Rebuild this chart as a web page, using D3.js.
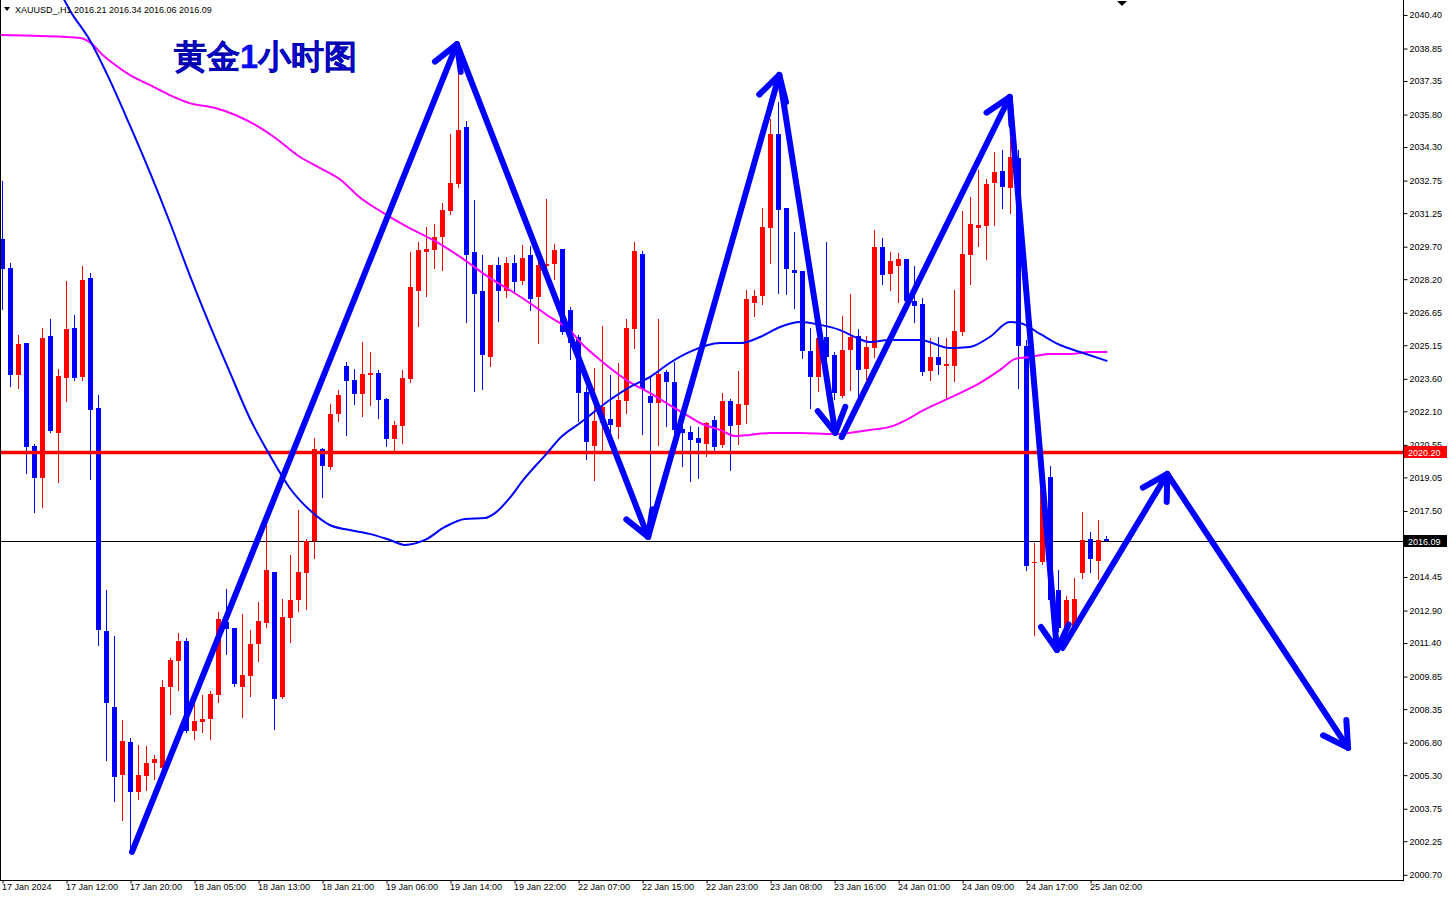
<!DOCTYPE html>
<html><head><meta charset="utf-8">
<script src="https://cdn.jsdelivr.net/npm/d3@7"></script>
<style>
html,body{margin:0;padding:0;background:#fff;}
svg{display:block;}
text{font-family:"Liberation Sans",Arial,sans-serif;}
</style></head><body>
<svg id="c" width="1451" height="902"></svg>
<script>
const symbolLabel = "XAUUSD_,H1";
const headerValues = "2016.21 2016.34 2016.06 2016.09";
const titleText = "黄金1小时图";
const timeLabels = ["17 Jan 2024","17 Jan 12:00","17 Jan 20:00","18 Jan 05:00","18 Jan 13:00","18 Jan 21:00","19 Jan 06:00","19 Jan 14:00","19 Jan 22:00","22 Jan 07:00","22 Jan 15:00","22 Jan 23:00","23 Jan 08:00","23 Jan 16:00","24 Jan 01:00","24 Jan 09:00","24 Jan 17:00","25 Jan 02:00"];
const timeLabelBars = [0,8,16,24,32,40,48,56,64,72,80,88,96,104,112,120,128,136];
const priceTicks = [2040.40,2038.85,2037.35,2035.80,2034.30,2032.75,2031.25,2029.70,2028.20,2026.65,2025.15,2023.60,2022.10,2020.55,2019.05,2017.50,2015.95,2014.45,2012.90,2011.40,2009.85,2008.35,2006.80,2005.30,2003.75,2002.25,2000.70];
const hiddenTick = 2015.95; // covered by the last-price box in the original
const supportLevel = 2020.20;
const lastPrice = 2016.09;

const open = [
2030.06,2028.72,2023.78,2025.25,2020.50,2019.02,2025.58,2021.10,2023.64,2025.95,
2023.68,2028.26,2022.25,2011.96,2008.45,2005.31,2006.83,2004.53,2005.26,2005.86,
2005.63,2009.37,2010.57,2011.50,2007.34,2007.76,2007.90,2009.00,2012.37,2012.10,
2009.37,2009.88,2011.36,2012.33,2014.68,2008.91,2012.56,2013.39,2014.64,2016.11,
2020.36,2019.53,2021.98,2024.19,2023.55,2022.90,2023.78,2023.87,2022.67,2020.82,
2021.42,2023.59,2027.66,2029.46,2029.55,2030.15,2031.35,2032.60,2035.23,2029.46,
2027.66,2024.61,2028.86,2027.66,2028.95,2028.12,2029.32,2027.38,2028.81,2028.90,
2029.59,2026.78,2025.53,2022.99,2020.50,2021.56,2021.75,2021.38,2022.58,2025.90,
2029.36,2022.81,2022.48,2023.92,2023.45,2021.28,2021.15,2020.87,2020.59,2021.70,
2020.55,2022.58,2021.47,2022.39,2027.10,2027.42,2030.56,2034.90,2031.49,2028.62,
2028.58,2024.89,2023.68,2025.53,2024.70,2022.81,2024.93,2025.58,2024.05,2025.02,
2029.69,2028.44,2028.81,2029.13,2027.19,2027.06,2023.96,2024.61,2024.19,2024.19,
2025.76,2029.32,2030.56,2030.66,2032.64,2033.20,2032.41,2033.80,2025.12,2015.10,
2015.14,2019.07,2013.85,2012.10,2012.05,2014.64,2016.21,2015.19,2016.21];
const high = [
2032.73,2028.95,2025.62,2025.25,2020.59,2025.95,2026.36,2024.05,2028.12,2026.55,
2028.81,2028.49,2022.85,2013.85,2011.73,2007.85,2007.02,2006.70,2006.65,2006.23,
2009.70,2010.71,2011.87,2011.64,2008.77,2009.00,2009.19,2012.84,2013.90,2012.10,
2012.74,2012.00,2013.30,2016.85,2014.68,2013.44,2015.47,2017.54,2016.21,2020.87,
2020.41,2022.44,2023.08,2024.38,2024.05,2025.30,2024.84,2024.01,2022.72,2021.65,
2024.01,2029.46,2029.92,2030.61,2030.75,2031.72,2034.90,2037.95,2035.50,2031.86,
2029.32,2028.86,2029.23,2029.23,2029.32,2029.78,2029.73,2029.23,2031.90,2029.82,
2029.59,2026.92,2025.62,2023.22,2024.10,2026.04,2023.78,2024.33,2026.36,2029.92,
2029.50,2023.73,2026.36,2024.01,2024.38,2022.02,2021.42,2021.38,2021.61,2021.88,
2022.95,2022.67,2023.96,2027.70,2027.70,2031.49,2035.60,2036.38,2031.49,2030.38,
2028.58,2025.95,2025.76,2029.92,2024.84,2026.50,2027.52,2025.90,2025.58,2030.47,
2030.10,2029.46,2029.41,2029.13,2028.81,2027.33,2025.49,2025.53,2025.49,2027.70,
2031.35,2032.00,2033.24,2032.83,2034.07,2034.17,2035.09,2034.17,2025.39,2016.02,
2019.58,2019.58,2014.77,2013.57,2014.41,2017.45,2016.53,2017.08,2016.34];
const low = [
2026.78,2023.22,2023.13,2019.21,2017.41,2017.64,2021.10,2018.79,2022.53,2023.50,
2023.50,2018.93,2011.27,2005.96,2004.06,2003.19,2001.71,2004.16,2004.57,2005.08,
2005.31,2008.08,2009.19,2007.25,2006.93,2007.25,2006.93,2008.63,2010.85,2009.37,
2007.94,2008.91,2010.53,2012.10,2007.39,2008.82,2011.40,2012.84,2012.93,2015.28,
2018.10,2019.39,2021.61,2020.96,2022.39,2021.84,2022.35,2021.75,2020.45,2020.27,
2020.59,2023.41,2025.99,2027.38,2028.67,2028.58,2031.16,2032.41,2026.18,2022.99,
2023.08,2024.15,2026.22,2027.33,2027.52,2027.93,2026.73,2025.21,2028.62,2028.16,
2025.62,2024.47,2021.61,2019.85,2018.88,2020.22,2020.78,2020.82,2021.98,2024.98,
2021.01,2017.22,2020.50,2021.38,2020.64,2019.53,2018.84,2018.98,2019.99,2020.27,
2020.41,2019.35,2020.55,2021.52,2026.46,2027.01,2028.90,2027.52,2027.47,2026.82,
2024.52,2022.21,2022.99,2023.08,2022.62,2022.72,2023.04,2022.62,2023.55,2024.56,
2027.93,2027.66,2027.10,2027.01,2026.18,2023.73,2023.50,2023.78,2022.67,2023.45,
2025.58,2027.93,2029.69,2029.09,2030.66,2031.44,2031.21,2023.13,2014.73,2011.73,
2015.00,2013.21,2011.91,2011.54,2011.91,2014.36,2014.64,2014.31,2016.06];
const close = [
2028.67,2023.78,2025.21,2020.45,2019.02,2025.49,2021.19,2023.73,2025.90,2023.64,
2028.16,2022.16,2012.00,2008.63,2005.22,2006.88,2004.53,2005.31,2005.86,2006.05,
2009.37,2010.62,2011.50,2007.34,2007.80,2007.90,2009.05,2012.51,2012.05,2009.51,
2009.93,2011.36,2012.42,2014.77,2008.82,2012.60,2013.39,2014.68,2016.11,2020.36,
2019.58,2021.98,2022.85,2023.50,2022.90,2023.82,2023.87,2022.62,2020.82,2021.47,
2023.64,2027.84,2029.55,2029.59,2030.15,2031.40,2032.64,2035.09,2029.32,2027.52,
2024.70,2028.86,2027.66,2028.95,2028.07,2029.18,2027.29,2028.86,2028.90,2029.55,
2025.76,2025.25,2022.95,2020.68,2021.65,2022.30,2021.47,2022.62,2025.95,2029.50,
2023.13,2022.48,2023.82,2023.45,2021.24,2021.10,2020.78,2020.64,2021.56,2020.45,
2022.58,2021.42,2022.44,2027.29,2027.42,2030.61,2034.90,2031.40,2028.67,2028.49,
2024.89,2023.68,2025.49,2024.61,2022.95,2024.93,2025.53,2024.01,2025.07,2029.69,
2028.39,2029.04,2029.13,2027.19,2026.96,2023.92,2024.61,2024.24,2024.29,2025.81,
2029.36,2030.75,2030.70,2032.60,2033.15,2032.46,2033.84,2025.12,2014.96,2015.14,
2019.07,2013.39,2012.10,2013.39,2013.44,2016.16,2015.28,2016.16,2016.09];

// moving averages: [bar position, price]
const blueMA = [[7.4,2041.32],[8.4,2040.63],[10.9,2039.24],[13.4,2037.40],[15.9,2035.32],[18.4,2033.15],[20.9,2030.84],[23.4,2028.39],[25.9,2026.09],[28.4,2023.92],[30.9,2021.79],[33.4,2020.08],[35.9,2018.56],[38.4,2017.54],[40.9,2016.85],[43.4,2016.62],[45.9,2016.44],[48.4,2016.16],[50.3,2015.93],[52.8,2016.16],[55.3,2016.76],[57.8,2017.13],[60.3,2017.17],[61.6,2017.41],[63.4,2018.10],[65.1,2018.93],[68.1,2020.18],[69.7,2020.87],[72.2,2021.56],[75.9,2022.62],[78.4,2023.22],[80.9,2023.68],[83.4,2024.33],[85.9,2024.84],[89.7,2025.25],[92.2,2025.25],[94.7,2025.53],[97.2,2025.99],[99.7,2026.22],[102.2,2026.09],[104.7,2025.85],[106.8,2025.49],[108.4,2025.30],[110.9,2025.39],[114.7,2025.39],[118.4,2025.02],[120.9,2025.07],[123.4,2025.53],[125.9,2026.22],[127.2,2026.18],[129.7,2025.67],[132.2,2025.16],[134.7,2024.84],[138.1,2024.42]];
const magentaMA = [[-0.3,2039.47],[4.7,2039.43],[9.7,2039.34],[11.2,2039.06],[12.4,2038.60],[14.1,2038.09],[15.9,2037.63],[18.4,2037.17],[20.9,2036.70],[23.4,2036.33],[26.6,2036.10],[29.1,2035.78],[31.6,2035.32],[34.1,2034.72],[37.2,2033.84],[39.7,2033.33],[42.6,2032.69],[44.3,2032.09],[47.6,2031.26],[50.6,2030.61],[53.8,2030.01],[57.2,2029.23],[60.9,2028.26],[63.4,2027.70],[65.9,2027.10],[68.4,2026.46],[70.9,2025.85],[72.2,2025.30],[74.7,2024.47],[78.4,2023.45],[80.9,2022.95],[83.4,2022.39],[85.9,2021.84],[87.2,2021.56],[89.7,2021.24],[91.6,2020.96],[93.4,2021.01],[95.9,2021.10],[99.7,2021.10],[103.8,2021.05],[108.4,2021.24],[110.9,2021.38],[113.4,2021.79],[114.7,2022.07],[118.4,2022.72],[122.2,2023.41],[124.7,2024.01],[126.6,2024.52],[128.4,2024.61],[130.9,2024.75],[133.4,2024.75],[135.9,2024.84],[138.1,2024.84]];

// hand-drawn arrows: [from, to] in [bar position, price], head at "to"
const arrows = [
 [[16.19,2001.76],[56.8,2039.05]],
 [[56.8,2039.05],[80.7,2016.30]],
 [[80.7,2016.30],[97.1,2037.63]],
 [[97.1,2037.63],[104.1,2021.10]],
 [[104.9,2020.91],[125.9,2036.61]],
 [[125.9,2036.61],[131.8,2011.08]],
 [[132.5,2011.17],[145.6,2019.21]],
 [[145.6,2019.21],[168.2,2006.56]]
];

const W = 1451, H = 902, plotR = 1403, plotB = 880;
const svg = d3.select("#c");
const x = d3.scaleLinear().domain([0, 138]).range([2.5, 2.5 + 8*138]);
const y = d3.scaleLinear().domain([2000.46, 2041.09]).range([plotB, 0]);

svg.append("defs").append("clipPath").attr("id","clip")
  .append("rect").attr("x",0).attr("y",0).attr("width",plotR).attr("height",plotB);

const g = svg.append("g").attr("clip-path","url(#clip)");

// last price line (under candles)
g.append("line").attr("x1",0).attr("x2",plotR)
  .attr("y1",Math.round(y(lastPrice))+0.5).attr("y2",Math.round(y(lastPrice))+0.5)
  .attr("stroke","#000").attr("stroke-width",1);

// candles
const idx = d3.range(open.length);
const cg = g.append("g");
idx.forEach(i => {
  const up = close[i] >= open[i];
  const col = up ? "#ff0000" : "#0000ff";
  const cx = x(i);
  const yh = Math.round(y(high[i])), yl = Math.round(y(low[i]));
  cg.append("rect").attr("x",cx-0.5).attr("y",yh).attr("width",1).attr("height",Math.max(1,yl-yh)).attr("fill",col);
  const t = Math.round(y(Math.max(open[i],close[i]))), b = Math.round(y(Math.min(open[i],close[i])));
  cg.append("rect").attr("x",cx-2.5).attr("y",t).attr("width",5).attr("height",Math.max(1,b-t)).attr("fill",col);
});

// support line
g.append("line").attr("x1",0).attr("x2",plotR)
  .attr("y1",y(supportLevel)).attr("y2",y(supportLevel))
  .attr("stroke","#ff0000").attr("stroke-width",3.5);

// moving averages
const line = d3.line().x(d=>x(d[0])).y(d=>y(d[1])).curve(d3.curveMonotoneX);
g.append("path").datum(magentaMA).attr("d",line).attr("fill","none").attr("stroke","#ff00ff").attr("stroke-width",2);
g.append("path").datum(blueMA).attr("d",line).attr("fill","none").attr("stroke","#0000ff").attr("stroke-width",2);

// arrows
const ag = g.append("g").attr("stroke","#0000ff").attr("stroke-width",6)
  .attr("stroke-linecap","round").attr("stroke-linejoin","round").attr("fill","none");
arrows.forEach(([a,b]) => {
  const x1=x(a[0]), y1=y(a[1]), x2=x(b[0]), y2=y(b[1]);
  ag.append("line").attr("x1",x1).attr("y1",y1).attr("x2",x2).attr("y2",y2);
  const ang = Math.atan2(y1-y2, x1-x2), L = 28, s = 0.52;
  const p1 = [x2 + L*Math.cos(ang+s), y2 + L*Math.sin(ang+s)];
  const p2 = [x2 + L*Math.cos(ang-s), y2 + L*Math.sin(ang-s)];
  ag.append("path").attr("d",`M${p1[0]},${p1[1]}L${x2},${y2}L${p2[0]},${p2[1]}`);
});

// frame
svg.append("line").attr("x1",0.5).attr("x2",0.5).attr("y1",0).attr("y2",plotB).attr("stroke","#000");
svg.append("line").attr("x1",0).attr("x2",plotR+0.5).attr("y1",plotB+0.5).attr("y2",plotB+0.5).attr("stroke","#000");

// right price axis
const ya = svg.append("g").attr("transform",`translate(${plotR+0.5},0)`)
  .call(d3.axisRight(y).tickValues(priceTicks).tickSize(4).tickSizeOuter(0)
    .tickFormat(d => d === hiddenTick ? "" : d.toFixed(2)));
ya.select(".domain").attr("d",`M0,0V${plotB+1}`).attr("stroke","#000");
ya.selectAll("text").attr("font-size",9).attr("fill","#000").attr("font-family","Liberation Sans, Arial, sans-serif").attr("x",6);

// price boxes
function box(v, bg){
  const yy = y(v);
  const bx = svg.append("g");
  bx.append("rect").attr("x",plotR+1).attr("y",Math.round(yy)-6).attr("width",43).attr("height",12).attr("fill",bg);
  bx.append("text").attr("x",plotR+5).attr("y",yy).attr("dy","0.34em").attr("font-size",9).attr("fill","#fff").text(v.toFixed(2));
}
box(supportLevel, "#ff0000");
box(lastPrice, "#000000");

// bottom time axis
const xa = svg.append("g").attr("transform",`translate(0,${plotB+0.5})`)
  .call(d3.axisBottom(x).tickValues(timeLabelBars).tickSize(3).tickSizeOuter(0).tickFormat((d,i)=>timeLabels[i]));
xa.select(".domain").remove();
xa.selectAll("text").attr("font-size",9).attr("fill","#000").attr("text-anchor","start").attr("x",-1).attr("y",3)
  .attr("font-family","Liberation Sans, Arial, sans-serif");

// header
svg.append("path").attr("d","M4,7L10,7L7,11Z").attr("fill","#000");
svg.append("text").attr("x",15).attr("y",12.5).attr("font-size",9).attr("fill","#000").text(symbolLabel + "  " + headerValues);
// shift marker
svg.append("path").attr("d","M1117,1L1127,1L1122,6Z").attr("fill","#000");

// title
svg.append("text").attr("x",174).attr("y",68).attr("font-size",32.5).attr("font-weight",700)
  .attr("font-family","'Noto Sans CJK SC', sans-serif").attr("fill","#0a0aff").attr("stroke","#0000a8").attr("stroke-width",0.35)
  .text(titleText);
</script>
</body></html>
